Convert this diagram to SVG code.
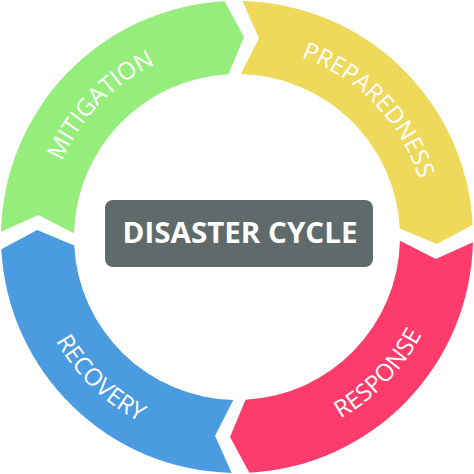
<svg xmlns="http://www.w3.org/2000/svg" xmlns:xlink="http://www.w3.org/1999/xlink" width="474" height="474" viewBox="0 0 474 474">
<style>
.lbl{font-family:"Open Sans","Liberation Sans",sans-serif;font-size:24px;fill:#ffffff;text-anchor:middle}
.title{font-family:"Open Sans","Liberation Sans",sans-serif;font-weight:bold;font-size:29px;fill:#ffffff;text-anchor:middle}
</style>
<defs>
<path id="pGreen" d="M46.03,240.33 A191,191 0 0 1 233.67,46.03"/>
<path id="pYellow" d="M240.33,46.03 A191,191 0 0 1 427.97,240.33"/>
<path id="pPink" d="M240.65,445.97 A209,209 0 0 0 445.97,233.35"/>
<path id="pBlue" d="M28.03,240.65 A209,209 0 0 0 240.65,445.97"/>
</defs>
<rect width="474" height="474" fill="#ffffff"/>
<g id="mitigation">
<path fill="#95ee7c" d="M1.06,231.65 A236,236 0 0 1 224.65,1.32 L243.98,37.12 L228.47,74.22 A163,163 0 0 0 74.04,233.30 L38.21,215.05 Z"/>
<text class="lbl"><textPath xlink:href="#pGreen" href="#pGreen" startOffset="50%">MITIGATION</textPath></text>
</g>
<g id="preparedness">
<path fill="#efd95a" d="M242.35,1.06 A236,236 0 0 1 472.68,224.65 L436.88,243.98 L399.78,228.47 A163,163 0 0 0 240.70,74.04 L258.95,38.21 Z"/>
<text class="lbl"><textPath xlink:href="#pYellow" href="#pYellow" startOffset="50%">PREPAREDNESS</textPath></text>
</g>
<g id="response">
<path fill="#fe3c6c" d="M472.94,242.35 A236,236 0 0 1 249.35,472.68 L230.02,436.88 L245.53,399.78 A163,163 0 0 0 399.96,240.70 L435.79,258.95 Z"/>
<text class="lbl"><textPath xlink:href="#pPink" href="#pPink" startOffset="50%">RESPONSE</textPath></text>
</g>
<g id="recovery">
<path fill="#4b9be0" d="M231.65,472.94 A236,236 0 0 1 1.32,249.35 L37.12,230.02 L74.22,245.53 A163,163 0 0 0 233.30,399.96 L215.05,435.79 Z"/>
<text class="lbl"><textPath xlink:href="#pBlue" href="#pBlue" startOffset="50%">RECOVERY</textPath></text>
</g>
<g id="disaster-cycle">
<rect x="105" y="200" width="268" height="67" rx="8" fill="#5f6a6a"/>
<text class="title" x="240" y="243" textLength="235" lengthAdjust="spacingAndGlyphs">DISASTER CYCLE</text>
</g>
</svg>
